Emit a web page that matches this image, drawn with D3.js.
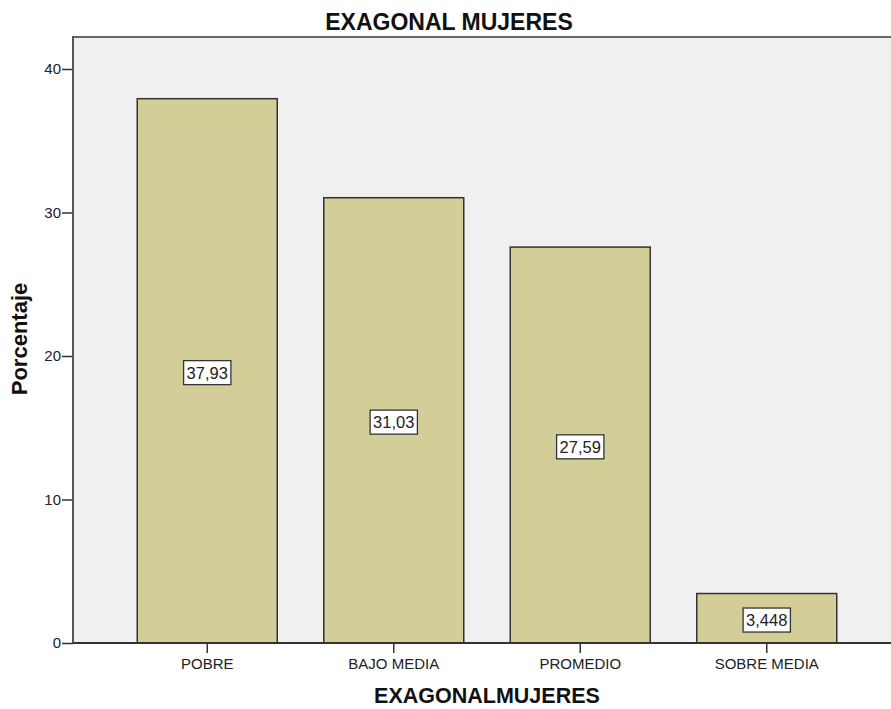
<!DOCTYPE html>
<html>
<head>
<meta charset="utf-8">
<script src="https://cdn.jsdelivr.net/npm/d3@7"></script>
<style>
  body { margin: 0; background: #fff; }
  svg { display: block; font-family: "Liberation Sans", Arial, sans-serif; }
</style>
</head>
<body>
<svg id="chart" width="891" height="709"></svg>
<script>
const categories = ["POBRE", "BAJO MEDIA", "PROMEDIO", "SOBRE MEDIA"];
const values = [37.93, 31.03, 27.59, 3.448];
const valueLabels = ["37,93", "31,03", "27,59", "3,448"];
const yTicks = [0, 10, 20, 30, 40];

const svg = d3.select("#chart");
const plot = { left: 73, top: 37, right: 891, bottom: 643 };

const x = d3.scaleBand().domain(categories).range([114, 860]).paddingInner(0.25).paddingOuter(0.125);
const y = d3.scaleLinear().domain([0, 40]).range([643, 69]);

// plot background
svg.append("rect")
  .attr("x", plot.left).attr("y", plot.top)
  .attr("width", plot.right - plot.left).attr("height", plot.bottom - plot.top)
  .attr("fill", "#f0f0f0");

// top frame line
svg.append("line")
  .attr("x1", plot.left).attr("x2", plot.right)
  .attr("y1", plot.top).attr("y2", plot.top)
  .attr("stroke", "#666").attr("stroke-width", 2);

// bars
const bw = 140;
svg.selectAll("rect.bar").data(values).join("rect")
  .attr("class", "bar")
  .attr("x", (d, i) => x(categories[i]) + x.bandwidth() / 2 - bw / 2)
  .attr("y", d => y(d))
  .attr("width", bw)
  .attr("height", d => y(0) - y(d))
  .attr("fill", "#d3ce97")
  .attr("stroke", "#333")
  .attr("stroke-width", 1.5);

// y axis
const yAxis = svg.append("g")
  .attr("transform", `translate(${plot.left},0)`)
  .call(d3.axisLeft(y).tickValues(yTicks).tickSize(11).tickPadding(1));
yAxis.select(".domain").remove();
yAxis.append("line")
  .attr("x1", 0).attr("x2", 0).attr("y1", plot.top - 1).attr("y2", plot.bottom)
  .attr("stroke", "#555").attr("stroke-width", 2);
yAxis.selectAll(".tick line").attr("stroke", "#333").attr("stroke-width", 1.5);
yAxis.selectAll(".tick text").attr("font-size", 15).attr("fill", "#222")
  .attr("font-family", "Liberation Sans, Arial, sans-serif");

// x axis
const xAxis = svg.append("g")
  .attr("transform", `translate(0,${plot.bottom})`)
  .call(d3.axisBottom(x).tickSize(10).tickPadding(5));
xAxis.select(".domain").remove();
xAxis.append("line")
  .attr("x1", plot.left).attr("x2", plot.right).attr("y1", 0).attr("y2", 0)
  .attr("stroke", "#333").attr("stroke-width", 1.8);
xAxis.selectAll(".tick line").attr("stroke", "#333").attr("stroke-width", 1.5);
xAxis.selectAll(".tick text").attr("font-size", 15).attr("fill", "#222")
  .attr("font-family", "Liberation Sans, Arial, sans-serif");

// value labels
const lab = svg.selectAll("g.vlabel").data(values).join("g")
  .attr("class", "vlabel")
  .attr("transform", (d, i) => `translate(${x(categories[i]) + x.bandwidth() / 2},${(y(d) + y(0)) / 2 + 2})`);
lab.append("text")
  .attr("text-anchor", "middle").attr("dy", "0.35em")
  .attr("font-size", 16.5).attr("fill", "#222")
  .text((d, i) => valueLabels[i]);
lab.each(function () {
  const g = d3.select(this);
  const bb = g.select("text").node().getBBox();
  g.insert("rect", "text")
    .attr("x", bb.x - 3).attr("y", bb.y - 3)
    .attr("width", bb.width + 6).attr("height", bb.height + 6)
    .attr("fill", "#fff").attr("stroke", "#333").attr("stroke-width", 1.3);
});

// titles
svg.append("text").attr("x", 449).attr("y", 30).attr("text-anchor", "middle")
  .attr("font-size", 23).attr("font-weight", "bold").attr("fill", "#111")
  .text("EXAGONAL MUJERES");
svg.append("text").attr("x", 487).attr("y", 703).attr("text-anchor", "middle")
  .attr("font-size", 21.5).attr("font-weight", "bold").attr("fill", "#111")
  .text("EXAGONALMUJERES");
svg.append("text").attr("transform", "translate(27,339) rotate(-90)").attr("text-anchor", "middle")
  .attr("font-size", 22).attr("font-weight", "bold").attr("fill", "#111")
  .text("Porcentaje");
</script>
</body>
</html>
